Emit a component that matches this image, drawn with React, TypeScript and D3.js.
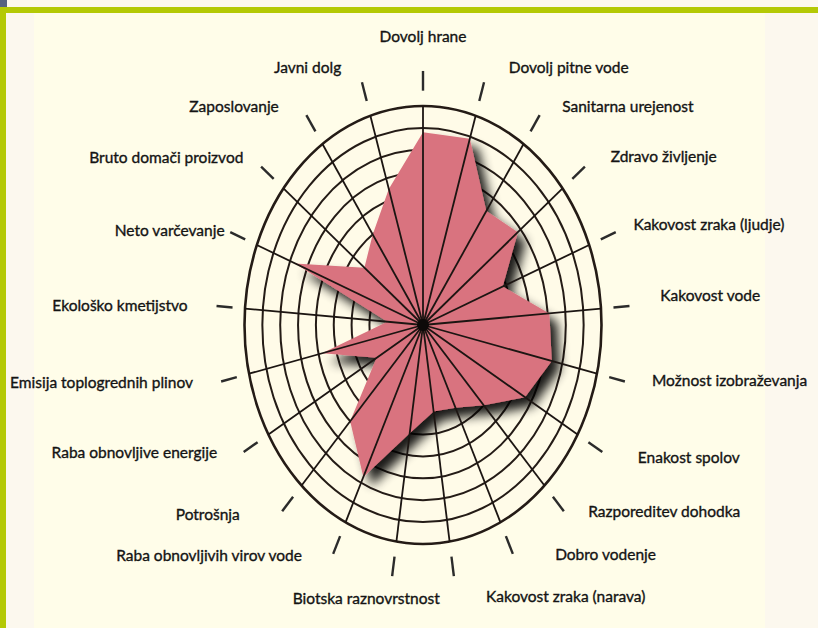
import * as d3 from "d3";

// indicators, clockwise from the top
const indicators = [
  "Dovolj hrane",
  "Dovolj pitne vode",
  "Sanitarna urejenost",
  "Zdravo življenje",
  "Kakovost zraka (ljudje)",
  "Kakovost vode",
  "Možnost izobraževanja",
  "Enakost spolov",
  "Razporeditev dohodka",
  "Dobro vodenje",
  "Kakovost zraka (narava)",
  "Biotska raznovrstnost",
  "Raba obnovljivih virov vode",
  "Potrošnja",
  "Raba obnovljive energije",
  "Emisija toplogrednih plinov",
  "Ekološko kmetijstvo",
  "Neto varčevanje",
  "Bruto domači proizvod",
  "Zaposlovanje",
  "Javni dolg",
];

const scores = [8.8, 8.9, 6.3, 6.8, 4.8, 7.1, 7.4, 6.6, 5.0, 4.2, 4.0, 5.0, 7.7, 6.0, 3.0, 5.8, 2.0, 7.7, 4.2, 5.0, 6.5];

const ringLevels = [1, 2, 3, 4, 5, 6, 7, 8, 9, 10];

// label fine tuning (dx, dy) from the computed spot
const labelNudge = [
  [0, -22], [15, -3], [4, 2], [0, -2], [-13, -2], [-2, -8], [-5, -2], [7, 2], [2, -6], [28, -8],
  [107, 11], [-21, 13], [-17, -7], [-20, -3], [2, -3], [4, 0], [4, 2], [25, 4], [8, -1], [-9, 2], [-11, -3],
];

const W = 818;
const H = 628;
const cx = 423;
const cy = 325;
const rx = 178.5;
const ry = 219;

export default function App() {
  const n = indicators.length;
  const r = d3.scaleLinear().domain([0, 10]).range([0, 1]);
  const angle = d3.scaleLinear().domain([0, n]).range([0, 2 * Math.PI]);

  const pt = (i: number, k: number): [number, number] => [
    cx + rx * k * Math.sin(angle(i)),
    cy - ry * k * Math.cos(angle(i)),
  ];

  const poly = d3.line().curve(d3.curveLinearClosed)(scores.map((v, i) => pt(i, r(v)))) || "";

  const font = "Lato, 'DejaVu Sans', sans-serif";

  return (
    <svg width={W} height={H} style={{ position: "absolute", left: 0, top: 0 }}>
      <defs>
        <filter id="shadow" x="-20%" y="-20%" width="150%" height="150%">
          <feGaussianBlur in="SourceAlpha" stdDeviation="5.5" />
          <feOffset dx="8" dy="9" result="off" />
          <feComponentTransfer>
            <feFuncA type="linear" slope="0.9" />
          </feComponentTransfer>
          <feMerge>
            <feMergeNode />
            <feMergeNode in="SourceGraphic" />
          </feMerge>
        </filter>
      </defs>

      {/* page */}
      <rect x={0} y={0} width={W} height={H} fill="#fcf8ee" />
      <rect x={34} y={13} width={731} height={H - 13} fill="#fffde9" />
      <rect x={0} y={7} width={W} height={6} fill="#b4c905" />
      <rect x={0} y={7} width={6} height={H - 7} fill="#b4c905" />
      <rect x={0} y={0} width={7} height={7} fill="#56627f" />

      {/* rings */}
      {ringLevels.map((lv) => (
        <ellipse
          key={lv}
          cx={cx}
          cy={cy}
          rx={rx * r(lv)}
          ry={ry * r(lv)}
          fill={lv === 10 ? "#fffbe8" : "none"}
          stroke="#241b16"
          strokeWidth={lv === 10 ? 2.6 : 2}
        />
      ))}
      {ringLevels.slice(0, 9).map((lv) => (
        <ellipse key={"i" + lv} cx={cx} cy={cy} rx={rx * r(lv)} ry={ry * r(lv)} fill="none" stroke="#241b16" strokeWidth={2} />
      ))}

      {/* outer ticks */}
      {indicators.map((_, i) => {
        const [x1, y1] = pt(i, 1.07);
        const [x2, y2] = pt(i, 1.16);
        return <line key={"t" + i} x1={x1} y1={y1} x2={x2} y2={y2} stroke="#2b2b2b" strokeWidth={2.4} />;
      })}

      {/* scores */}
      <path d={poly} fill="#d9737f" filter="url(#shadow)" />

      {/* spokes */}
      {indicators.map((_, i) => {
        const [x2, y2] = pt(i, 1);
        return <line key={"s" + i} x1={cx} y1={cy} x2={x2} y2={y2} stroke="#1c1512" strokeWidth={1.8} />;
      })}
      <circle cx={cx} cy={cy} r={6} fill="#0d0a09" />

      {/* labels */}
      {indicators.map((name, i) => {
        const s = Math.sin(angle(i));
        const [x, y] = [cx + 240 * s, cy - 265 * Math.cos(angle(i))];
        const anchor = i === 0 || i === 10 || i === 11 ? "middle" : s > 0 ? "start" : "end";
        return (
          <text
            key={"l" + i}
            x={x + labelNudge[i][0]}
            y={y + labelNudge[i][1]}
            textAnchor={anchor}
            dominantBaseline="middle"
            fontFamily={font}
            fontSize={15.5}
            fill="#141414"
            stroke="#141414"
            strokeWidth={0.35}
          >
            {name}
          </text>
        );
      })}
    </svg>
  );
}
